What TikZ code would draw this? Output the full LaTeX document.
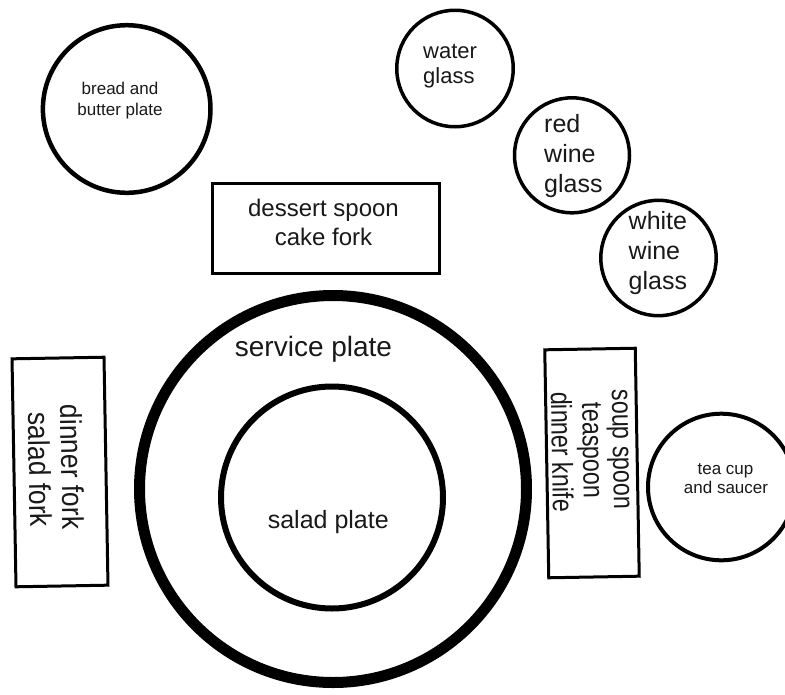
\documentclass[tikz,border=0pt]{standalone}
\usepackage{fontspec}
\setmainfont{Liberation Sans}
\newfontfamily\condA[FakeStretch=0.88]{Liberation Sans}
\newfontfamily\condB[FakeStretch=0.80]{Liberation Sans}
\begin{document}
\begin{tikzpicture}[x=1pt,y=-1pt,
  plate/.style={circle, draw=black, inner sep=0pt},
  cutlery/.style={rectangle, draw=black, line width=3pt, inner sep=0pt},
  lab/.style={inner sep=0pt, text=black!90, anchor=base},
  labw/.style={inner sep=0pt, text=black!90, anchor=base west},
]
\useasboundingbox (0,0) rectangle (785,694);
\fill[white] (0,0) rectangle (785,694);

% plates and glasses
\node[plate, line width=4.5pt, minimum size=167.6pt] (bread) at (126.7,109) {};
\node[plate, line width=3.5pt, minimum size=116.5pt] (water) at (455,68.5) {};
\node[plate, line width=3.5pt, minimum size=115pt] (red) at (572,155.3) {};
\node[plate, line width=3.5pt, minimum size=115.4pt] (white) at (658.5,258) {};
\node[plate, line width=4pt, minimum size=146.6pt] (tea) at (721.3,487) {};
\node[plate, line width=11pt, minimum size=387pt] (service) at (333,489) {};
\node[plate, line width=6pt, minimum size=222pt] (salad) at (332,497.5) {};

% cutlery boxes
\node[cutlery, minimum width=227pt, minimum height=90pt] (dessert) at (326,228.5) {};
\node[cutlery, minimum width=92pt, minimum height=228pt, rotate=1] (leftbox) at (60,472) {};
\node[cutlery, minimum width=90.5pt, minimum height=228pt, rotate=1] (rightbox) at (592,463) {};

% labels
\node[lab, font=\fontsize{17}{20}\selectfont] (breadA) at (120,94.3) {bread and};
\node[lab, font=\fontsize{17}{20}\selectfont] (breadB) at (120,115) {butter plate};

\node[labw, font=\fontsize{22}{25}\selectfont] (waterA) at (423,58) {water};
\node[labw, font=\fontsize{22}{25}\selectfont] (waterB) at (423,83) {glass};

\node[labw, font=\fontsize{25}{30}\selectfont] (redA) at (544,132) {red};
\node[labw, font=\fontsize{25}{30}\selectfont] (redB) at (544,162) {wine};
\node[labw, font=\fontsize{25}{30}\selectfont] (redC) at (544,192) {glass};

\node[labw, font=\fontsize{25}{30}\selectfont] (whiteA) at (628.5,229) {white};
\node[labw, font=\fontsize{25}{30}\selectfont] (whiteB) at (628.5,259) {wine};
\node[labw, font=\fontsize{25}{30}\selectfont] (whiteC) at (628.5,289) {glass};

\node[lab, font=\fontsize{24}{29}\selectfont] (dessertA) at (323.5,216) {dessert spoon};
\node[lab, font=\fontsize{24}{29}\selectfont] (dessertB) at (323.5,245) {cake fork};

\node[lab, font=\fontsize{28}{33}\selectfont] (serviceL) at (313.5,356.7) {service plate};
\node[lab, font=\fontsize{25}{30}\selectfont] (saladL) at (328.3,528.3) {salad plate};

\node[lab, font=\fontsize{17}{20}\selectfont] (teaA) at (725.5,474) {tea cup};
\node[lab, font=\fontsize{17}{20}\selectfont] (teaB) at (726,493) {and saucer};

\node[lab, font=\condA\fontsize{30}{34}\selectfont, rotate=-89] (forkA) at (61.7,467) {dinner fork};
\node[lab, font=\condA\fontsize{30}{34}\selectfont, rotate=-89] (forkB) at (29.3,470) {salad fork};

\node[lab, font=\condB\fontsize{29}{33}\selectfont, rotate=-89] (knifeA) at (613,449.5) {soup spoon};
\node[lab, font=\condB\fontsize{29}{33}\selectfont, rotate=-89] (knifeB) at (583,450.5) {teaspoon};
\node[lab, font=\condB\fontsize{29}{33}\selectfont, rotate=-89] (knifeC) at (552,452) {dinner knife};
\end{tikzpicture}
\end{document}
